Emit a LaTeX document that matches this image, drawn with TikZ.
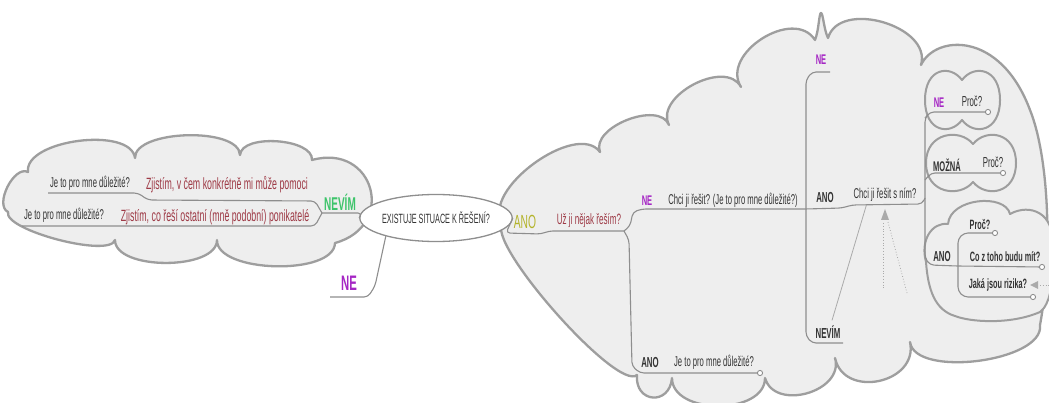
\documentclass[tikz,border=0pt]{standalone}
\usepackage{fontspec}
\setmainfont[FakeStretch=0.54]{Liberation Sans}
\usetikzlibrary{calc,shapes.geometric}
\definecolor{cloudfill}{HTML}{EEEEEE}
\definecolor{cloudline}{HTML}{9E9E9E}
\definecolor{conncol}{HTML}{8E8E8E}
\definecolor{darkred}{HTML}{9E3A46}
\definecolor{purp}{HTML}{A526C4}
\definecolor{grn}{HTML}{3DC46A}
\definecolor{olivec}{HTML}{B3B32A}
\definecolor{dtxt}{HTML}{333333}
\definecolor{relcol}{HTML}{AAAAAA}
\newcommand\bmp[3]{.. controls ($(#1)!#3!90:(#2)$) and ($(#2)!#3!-90:(#1)$) .. (#2)}
\newcommand\fs[1]{\fontsize{#1}{#1}\selectfont}
\begin{document}
\begin{tikzpicture}[x=1pt,y=-1pt,
  cloud/.style={fill=cloudfill,draw=cloudline,line width=2.3pt,line join=round},
  scloud/.style={fill=cloudfill,draw=cloudline,line width=2pt,line join=round},
  conn/.style={draw=conncol,line width=1.1pt,rounded corners=4pt},
  endc/.style={fill=white,draw=conncol,line width=0.9pt},
  lbl/.style={inner sep=0pt,text=dtxt,font=\fs{14.2}},
  blbl/.style={inner sep=0pt,text=dtxt,font=\fs{14.5}\bfseries},
  redlbl/.style={inner sep=0pt,text=darkred,font=\fs{16.3}},
  purlbl/.style={inner sep=0pt,text=purp,font=\fs{14}\bfseries},
  rel/.style={draw=relcol,line width=0.8pt},
  reldot/.style={draw=relcol,line width=0.8pt,dotted}]
\useasboundingbox (0,0) rectangle (1049,403);
\fill[white] (0,0) rectangle (1049,403);

% left cloud
\path[cloud] (8,212) \bmp{8,212}{28,172}{0.35} \bmp{28,172}{135,158}{0.3}
  \bmp{135,158}{240,155}{0.27} \bmp{240,155}{312,160}{0.3}
  \bmp{312,160}{335,243}{0.75} \bmp{335,243}{217,240}{0.28}
  \bmp{217,240}{115,240}{0.3} \bmp{115,240}{8,212}{0.17} -- cycle;

% right cloud
\path[cloud] (503,223) \bmp{503,223}{600,152}{0.33} \bmp{600,152}{669,125}{0.36}
  \bmp{669,125}{741,87}{0.4} \bmp{741,87}{815,40}{0.45}
  .. controls (819,30) and (819,13) .. (821,13) .. controls (823,13) and (824,30) .. (828,38)
  \bmp{828,38}{921,65}{0.42}
  .. controls (935,35) and (1000,30) .. (1030,110) .. controls (1050,160) and (1052,260) .. (1040,325)
  \bmp{1040,325}{910,342}{0.28} \bmp{910,342}{835,358}{0.55}
  \bmp{835,358}{765,378}{0.48} \bmp{765,378}{672,378}{0.4}
  \bmp{672,378}{637,375}{0.8} \bmp{637,375}{503,223}{0.13} -- cycle;

% small clouds
\path[scloud] (962,80) .. controls (950,64) and (925,68) .. (925,100)
  .. controls (925,132) and (950,136) .. (962,120)
  .. controls (974,136) and (1000,132) .. (1000,100)
  .. controls (1000,68) and (974,64) .. (962,80) -- cycle;
\path[scloud] (973,144) .. controls (960,128) and (926,132) .. (926,163)
  .. controls (926,194) and (960,198) .. (973,182)
  .. controls (986,198) and (1016,194) .. (1016,163)
  .. controls (1016,132) and (986,128) .. (973,144) -- cycle;
\path[scloud] (926,262) .. controls (920,240) and (932,222) .. (948,224)
  .. controls (950,198) and (1005,193) .. (1010,214)
  .. controls (1030,203) and (1055,213) .. (1052,245)
  .. controls (1055,280) and (1050,305) .. (1040,312)
  .. controls (1010,325) and (970,322) .. (955,316)
  .. controls (935,310) and (928,290) .. (926,262) -- cycle;

% nodes
\node[ellipse,draw=conncol,fill=white,line width=1.3pt,minimum width=127pt,minimum height=47pt,inner sep=0pt,text=dtxt,font=\fs{13.4}] (ell) at (436,218) {EXISTUJE SITUACE K ŘEŠENÍ?};
\node[lbl] (je1) at (90,183) {Je to pro mne důležité?};
\node[redlbl] (zj1) at (227,185) {Zjistím, v čem konkrétně mi může pomoci};
\node[lbl] (je2) at (64,215) {Je to pro mne důležité?};
\node[redlbl] (zj2) at (215,217) {Zjistím, co řeší ostatní (mně podobní) ponikatelé};
\node[inner sep=0pt,text=grn,font=\fs{18.5}\bfseries] (nevim) at (340,202) {NEVÍM};
\node[inner sep=0pt,text=purp,font=\fs{21}\bfseries] (ne1) at (349,283) {NE};

\node[inner sep=0pt,text=olivec,font=\fs{19}] (ano1) at (525,222) {ANO};
\node[redlbl,font=\fs{15}] (uz) at (589,221) {Už ji nějak řeším?};
\node[purlbl] (ne2) at (647,201) {NE};
\node[lbl] (chci1) at (733,200) {Chci ji řešit? (Je to pro mne důležité?)};
\node[blbl] (ano2) at (825,198) {ANO};
\node[lbl] (chci2) at (885,195) {Chci ji řešit s ním?};
\node[purlbl] (ne3) at (821,60) {NE};
\node[blbl] (nevim2) at (828,332) {NEVÍM};
\node[blbl] (ano3) at (650,363) {ANO};
\node[lbl] (je3) at (714,362) {Je to pro mne důležité?};

\node[purlbl] (ne4) at (939,103) {NE};
\node[lbl,font=\fs{14.5}] (proc1) at (972,101) {Proč?};
\node[blbl,font=\fs{14}\bfseries] (mozna) at (947,165) {MOŽNÁ};
\node[lbl,font=\fs{14.5}] (proc2) at (993,162) {Proč?};
\node[blbl] (ano4) at (942,257) {ANO};
\node[blbl,font=\fs{13.5}\bfseries] (proc3) at (980,225) {Proč?};
\node[blbl,font=\fs{13.5}\bfseries] (co) at (1005,257) {Co z toho budu mít?};
\node[blbl,font=\fs{13.5}\bfseries] (jaka) at (998,285) {Jaká jsou rizika?};

% connectors left
\coordinate (jn) at (322,213);
\draw[conn] (ell.west) -- (362,213) -- (jn);
\draw[conn] (jn) -- (315,201) -- (148,200) -- (138,193) -- (48,193);
\draw[conn] (jn) -- (315,226) -- (22,226);
\draw[conn] (ell.200) -- (375,286) -- (368,297) -- (330,297);

% connectors right
\coordinate (ju) at (624,231);
\coordinate (jc) at (922,204);
\draw[conn] (ell.east) -- (506,233) -- (541,234) -- (549,231) -- (ju);
\draw[conn] (ju) -- (630,226) -- (633,212) -- (642,209) -- (806,209) -- (842,208) -- (852,205) -- (jc) -- (925,198);
\draw[conn] (ju) -- (629,240) -- (632,366) -- (640,373) -- (760,373);
\draw[conn] (830,72) -- (812,72) -- (806,80) -- (806,336) -- (812,343) -- (843,343);
\draw[conn] (988,112) -- (930,112) -- (925,118) -- (925,258) -- (930,265) -- (957,266) -- (1042,267);
\draw[conn] (925,180) -- (931,173) -- (1003,173);
\draw[conn] (995,233) -- (964,233) -- (958,239) -- (958,291) -- (964,297) -- (1033,297);
\foreach \p in {(760,373),(988,112),(1003,173),(995,233),(1042,267),(1033,297)}
  \filldraw[endc] \p circle (2.6pt);

% relationship lines
\draw[rel] ([xshift=13pt,yshift=-6pt]chci2.base west) -- ([xshift=4pt,yshift=5pt]nevim2.north);
\fill[relcol] (881,220) -- (885,209) -- (889,220) -- cycle;
\draw[reldot] (883,223) -- (883,288);
\draw[reldot] (888,222) -- (907,293);
\fill[relcol] (1030,285) -- (1038,281) -- (1038,289) -- cycle;
\draw[reldot] (1040,285) -- (1049,285);
\end{tikzpicture}
\end{document}
